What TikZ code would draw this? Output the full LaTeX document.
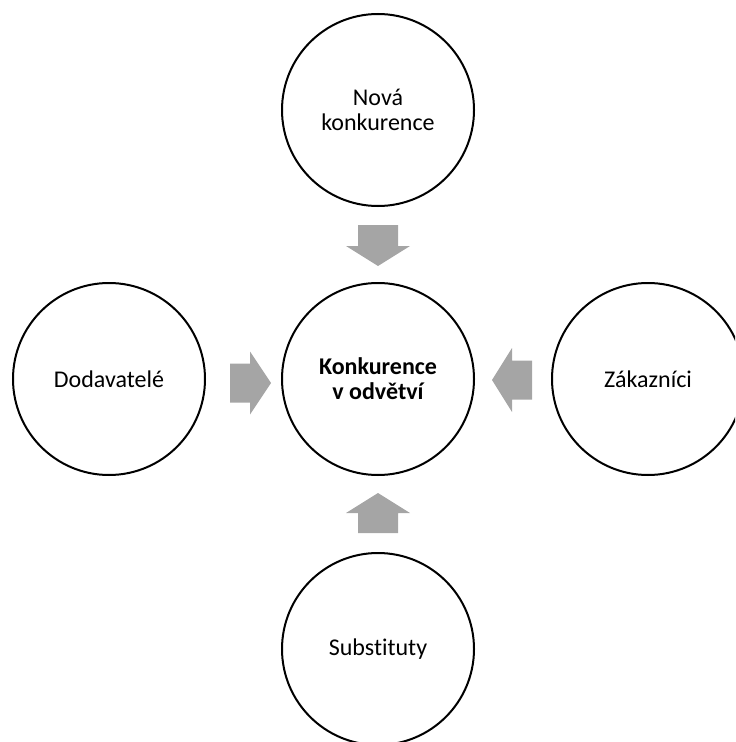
\documentclass[tikz,border=0pt]{standalone}
\usepackage{fontspec}
\setmainfont{Carlito}[Ligatures=NoCommon]
\definecolor{arrowgray}{HTML}{A5A5A5}
\begin{document}
\begin{tikzpicture}[x=0.75pt,y=-0.75pt,
  circ/.style={circle,draw=black,line width=1.5pt,fill=white,minimum size=144pt,inner sep=0pt,align=center,font=\fontsize{18}{18.8}\selectfont},
  blk/.style={fill=arrowgray,draw=none}]
\useasboundingbox (0,0) rectangle (735,742);
\clip (0,0) rectangle (735,742);
\node[circ] (top) at (378,110) {Nová\\konkurence};
\node[circ,font=\fontsize{18}{18.8}\selectfont\bfseries] (mid) at (378,379) {Konkurence\\v odvětví};
\node[circ] (left) at (109,379) {Dodavatelé};
\node[circ] (right) at (648,379) {Zákazníci};
\node[circ] (bot) at (378,649) {Substituty};
\coordinate (aN) at (378,246);
\coordinate (aS) at (378,513);
\coordinate (aW) at (250,383);
\coordinate (aE) at (512,380);
\fill[blk,shift={(aN)}] (-20,-21) -- (20,-21) -- (20,0) -- (32,0) -- (0,20) -- (-32,0) -- (-20,0) -- cycle;
\fill[blk,shift={(aS)}] (-20,20) -- (20,20) -- (20,0) -- (32,0) -- (0,-20) -- (-32,0) -- (-20,0) -- cycle;
\fill[blk,shift={(aW)}] (-20,-19.5) -- (0,-19.5) -- (0,-31.5) -- (21,0) -- (0,31.5) -- (0,19.5) -- (-20,19.5) -- cycle;
\fill[blk,shift={(aE)}] (20,-19.5) -- (0,-19.5) -- (0,-32) -- (-20,0) -- (0,32) -- (0,19.5) -- (20,19.5) -- cycle;
\end{tikzpicture}
\end{document}
